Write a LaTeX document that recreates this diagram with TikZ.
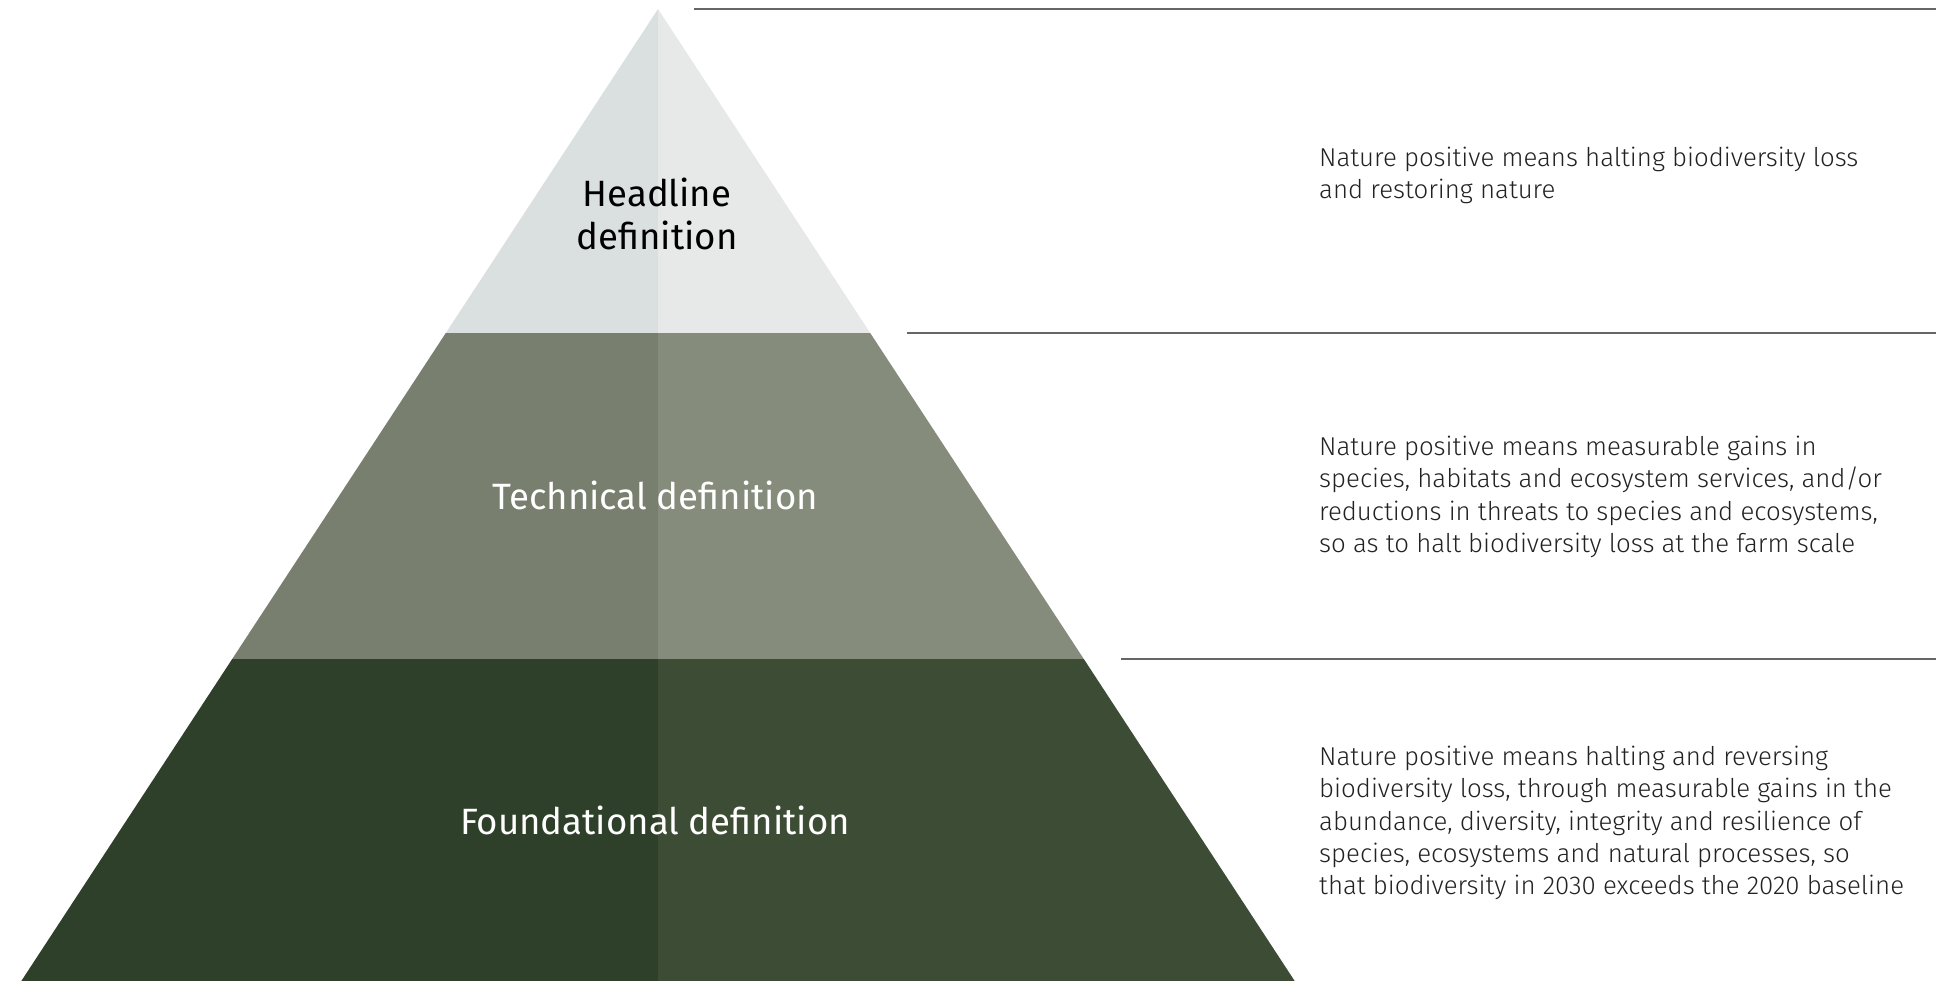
\documentclass[tikz,border=0pt]{standalone}
\usepackage{fontspec}
\setmainfont{Fira Sans}
\newfontfamily\lightfont{Fira Sans}[UprightFont=* Light]
\definecolor{tAL}{RGB}{218,224,223}
\definecolor{tAR}{RGB}{231,233,232}
\definecolor{tBL}{RGB}{120,127,111}
\definecolor{tBR}{RGB}{133,140,123}
\definecolor{tCL}{RGB}{46,64,41}
\definecolor{tCR}{RGB}{61,77,53}
\definecolor{rule}{RGB}{102,102,102}
\definecolor{desc}{RGB}{34,34,34}
\tikzset{
  tierlabel/.style={font=\fontsize{36.6}{43}\selectfont, align=center, inner sep=0pt},
  desctext/.style={font=\lightfont\fontsize{25.8}{32.3}\selectfont, align=left, anchor=north west, inner sep=0pt, text=desc},
  rulestyle/.style={draw=rule, line width=1.6pt}
}
\begin{document}
\begin{tikzpicture}[x=1pt,y=-1pt]
\useasboundingbox (0,0) rectangle (1950,981);
% tiers
\coordinate (apex) at (658,9);
\coordinate (l1) at (445.8,333); \coordinate (r1) at (870.2,333); \coordinate (m1) at (658,333);
\coordinate (l2) at (232.2,659); \coordinate (r2) at (1083.8,659); \coordinate (m2) at (658,659);
\coordinate (l3) at (21.3,981); \coordinate (r3) at (1294.7,981); \coordinate (m3) at (658,981);
\fill[tAL] (apex) -- (l1) -- (m1) -- cycle;
\fill[tAR] (apex) -- (r1) -- (m1) -- cycle;
\fill[tBL] (l1) -- (m1) -- (m2) -- (l2) -- cycle;
\fill[tBR] (m1) -- (r1) -- (r2) -- (m2) -- cycle;
\fill[tCL] (l2) -- (m2) -- (m3) -- (l3) -- cycle;
\fill[tCR] (m2) -- (r2) -- (r3) -- (m3) -- cycle;
% rules
\coordinate (s1) at (694,9); \coordinate (e1) at (1936,9);
\coordinate (s2) at (907,333); \coordinate (e2) at (1936,333);
\coordinate (s3) at (1121,659); \coordinate (e3) at (1936,659);
\draw[rulestyle] (s1) -- (e1);
\draw[rulestyle] (s2) -- (e2);
\draw[rulestyle] (s3) -- (e3);
% tier labels
\node[tierlabel, text=black] (head) at (657,214) {Headline\\definition};
\node[tierlabel, text=white] (tech) at (655,495) {Technical definition};
\node[tierlabel, text=white] (found) at (655,820) {Foundational definition};
% descriptions
\node[desctext] (d1) at (1319,147) {Nature positive means halting biodiversity loss\\and restoring nature};
\node[desctext] (d2) at (1319,436) {Nature positive means measurable gains in\\species, habitats and ecosystem services, and/or\\reductions in threats to species and ecosystems,\\so as to halt biodiversity loss at the farm scale};
\node[desctext] (d3) at (1319,746) {Nature positive means halting and reversing\\biodiversity loss, through measurable gains in the\\abundance, diversity, integrity and resilience of\\species, ecosystems and natural processes, so\\that biodiversity in 2030 exceeds the 2020 baseline};
\end{tikzpicture}
\end{document}
